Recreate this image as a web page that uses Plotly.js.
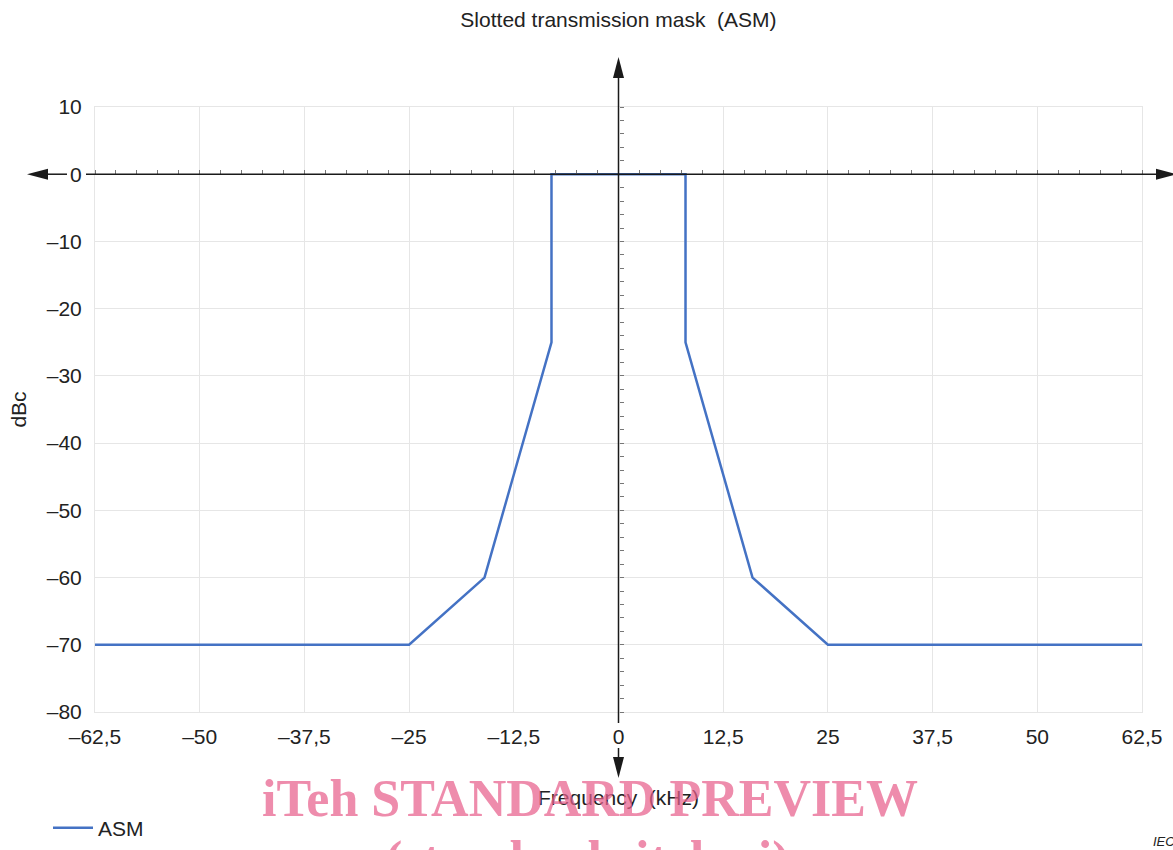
<!DOCTYPE html>
<html>
<head>
<meta charset="utf-8">
<script src="https://cdn.plot.ly/plotly-3.0.1.min.js"></script>
<style>html,body{margin:0;padding:0;background:#fff;}#chart{width:1173px;height:850px;}</style>
</head>
<body>
<div id="chart"></div>
<script>
// ---- data ----
const freqKHz = [-62.5, -25, -16, -8, -8, 8, 8, 16, 25, 62.5];
const maskDBc = [-70, -70, -60, -25, 0, 0, -25, -60, -70, -70];
const seriesName = 'ASM';

const xTickVals = [-62.5, -50, -37.5, -25, -12.5, 0, 12.5, 25, 37.5, 50, 62.5];
const xTickText = ['\u201362,5', '\u201350', '\u201337,5', '\u201325', '\u201312,5', '0', '12,5', '25', '37,5', '50', '62,5'];
const yTickVals = [-80, -70, -60, -50, -40, -30, -20, -10, 0, 10];
const yTickText = ['\u201380', '\u201370', '\u201360', '\u201350', '\u201340', '\u201330', '\u201320', '\u201310', '0', '10'];

const xRange = [-62.5, 62.5];
const yRange = [-80, 10];

// ---- layout helpers (pixel geometry of the figure) ----
const W = 1173, H = 850;
const M = {l: 95, r: 31, t: 107, b: 138, autoexpand: false};
const PW = W - M.l - M.r, PH = H - M.t - M.b;
const px2paperX = px => (px - M.l) / PW;
const py2paperY = py => (H - M.b - py) / PH;
const zeroPaperY = (0 - yRange[0]) / (yRange[1] - yRange[0]);
const zeroPaperX = (0 - xRange[0]) / (xRange[1] - xRange[0]);

const FONT = '"Liberation Sans", Arial, Helvetica, sans-serif';
const TXT = '#222222';
const AX = '#1a1a1a';

const traces = [
  {
    x: freqKHz, y: maskDBc, name: seriesName, type: 'scatter', mode: 'lines',
    line: {color: '#4472C4', width: 2.5}, hoverinfo: 'x+y'
  },
  {
    x: [0], y: [0], xaxis: 'x2', yaxis: 'y2', mode: 'markers',
    marker: {opacity: 0}, showlegend: false, hoverinfo: 'skip'
  }
];

const arrowLen = 21, arrowHalf = 5.5;
const shapes = [
  {type: 'line', xref: 'paper', yref: 'y', x0: px2paperX(40), x1: px2paperX(67), y0: 0, y1: 0, line: {color: AX, width: 1.5}, layer: 'above'},
  {type: 'line', xref: 'paper', yref: 'y', x0: px2paperX(86), x1: px2paperX(1165), y0: 0, y1: 0, line: {color: AX, width: 1.5}, layer: 'above'},
  {type: 'line', xref: 'x', yref: 'paper', x0: 0, x1: 0, y0: py2paperY(70), y1: py2paperY(723), line: {color: AX, width: 1.5}, layer: 'above'},
  {type: 'line', xref: 'x', yref: 'paper', x0: 0, x1: 0, y0: py2paperY(748), y1: py2paperY(765), line: {color: AX, width: 1.5}, layer: 'above'},
  {type: 'path', xref: 'paper', yref: 'y', xsizemode: 'pixel', ysizemode: 'pixel', xanchor: px2paperX(27), yanchor: 0,
   path: `M0,0L${arrowLen},${arrowHalf}L${arrowLen},${-arrowHalf}Z`, fillcolor: AX, line: {width: 0}, layer: 'above'},
  {type: 'path', xref: 'paper', yref: 'y', xsizemode: 'pixel', ysizemode: 'pixel', xanchor: px2paperX(1177), yanchor: 0,
   path: `M0,0L${-arrowLen},${arrowHalf}L${-arrowLen},${-arrowHalf}Z`, fillcolor: AX, line: {width: 0}, layer: 'above'},
  {type: 'path', xref: 'x', yref: 'paper', xsizemode: 'pixel', ysizemode: 'pixel', xanchor: 0, yanchor: py2paperY(57),
   path: `M0,0L${-arrowHalf},${-arrowLen}L${arrowHalf},${-arrowLen}Z`, fillcolor: AX, line: {width: 0}, layer: 'above'},
  {type: 'path', xref: 'x', yref: 'paper', xsizemode: 'pixel', ysizemode: 'pixel', xanchor: 0, yanchor: py2paperY(778),
   path: `M0,0L${-arrowHalf},${arrowLen}L${arrowHalf},${arrowLen}Z`, fillcolor: AX, line: {width: 0}, layer: 'above'}
];

const annotations = [
  {text: 'iTeh STANDARD PREVIEW', xref: 'paper', yref: 'paper', x: px2paperX(590), y: py2paperY(798),
   xanchor: 'center', yanchor: 'middle', showarrow: false,
   font: {family: '"Liberation Serif", "Times New Roman", serif', size: 52, weight: 700, color: 'rgba(232,96,140,0.72)'}},
  {text: '(standards.iteh.ai)', xref: 'paper', yref: 'paper', x: px2paperX(587), y: py2paperY(860),
   xanchor: 'center', yanchor: 'middle', showarrow: false,
   font: {family: '"Liberation Serif", "Times New Roman", serif', size: 52, weight: 700, color: 'rgba(232,96,140,0.72)'}},
  {text: 'IEC', xref: 'paper', yref: 'paper', x: px2paperX(1151), y: py2paperY(841),
   xanchor: 'left', yanchor: 'middle', showarrow: false,
   font: {family: FONT, size: 13, style: 'italic', color: TXT}}
];

const layout = {
  width: W, height: H,
  margin: M,
  paper_bgcolor: '#ffffff', plot_bgcolor: '#ffffff',
  font: {family: FONT, size: 21, color: TXT},
  title: {text: 'Slotted transmission mask  (ASM)', x: 0.5, xref: 'paper', y: 1 - 20 / H, yref: 'container',
          xanchor: 'center', yanchor: 'middle', font: {family: FONT, size: 21, color: TXT}},
  showlegend: true,
  legend: {orientation: 'h', x: px2paperX(48), y: py2paperY(828), xanchor: 'left', yanchor: 'middle',
           itemwidth: 40, font: {family: FONT, size: 21, color: TXT}, bgcolor: 'rgba(0,0,0,0)'},
  xaxis: {
    range: xRange, tickmode: 'array', tickvals: xTickVals, ticktext: xTickText,
    showgrid: true, gridcolor: '#e6e6e6', gridwidth: 1, zeroline: false,
    showline: true, mirror: true, linecolor: '#e6e6e6', linewidth: 1,
    ticks: '', ticklabelstandoff: 6, tickfont: {family: FONT, size: 21, color: TXT},
    title: {text: 'Frequency  (kHz)', standoff: 43, font: {family: FONT, size: 21, color: TXT}},
    fixedrange: true
  },
  yaxis: {
    range: yRange, tickmode: 'array', tickvals: yTickVals, ticktext: yTickText,
    showgrid: true, gridcolor: '#e6e6e6', gridwidth: 1, zeroline: false,
    showline: true, mirror: true, linecolor: '#e6e6e6', linewidth: 1,
    ticks: '', ticklabelstandoff: 8, tickfont: {family: FONT, size: 21, color: TXT},
    title: {text: 'dBc', standoff: 14, font: {family: FONT, size: 21, color: TXT}},
    fixedrange: true
  },
  xaxis2: {
    overlaying: 'x', anchor: 'free', position: zeroPaperY, side: 'top', range: xRange,
    tickmode: 'linear', tick0: 0, dtick: 2.5, ticks: 'outside', ticklen: 4, tickwidth: 1, tickcolor: '#777',
    showticklabels: false, showgrid: false, zeroline: false, showline: false, fixedrange: true
  },
  yaxis2: {
    overlaying: 'y', anchor: 'free', position: zeroPaperX, side: 'right', range: yRange,
    tickmode: 'linear', tick0: 0, dtick: 2, ticks: 'outside', ticklen: 4, tickwidth: 1, tickcolor: '#777',
    showticklabels: false, showgrid: false, zeroline: false, showline: false, fixedrange: true
  },
  shapes: shapes,
  annotations: annotations
};

Plotly.newPlot('chart', traces, layout, {displayModeBar: false, staticPlot: true});
</script>
</body>
</html>
